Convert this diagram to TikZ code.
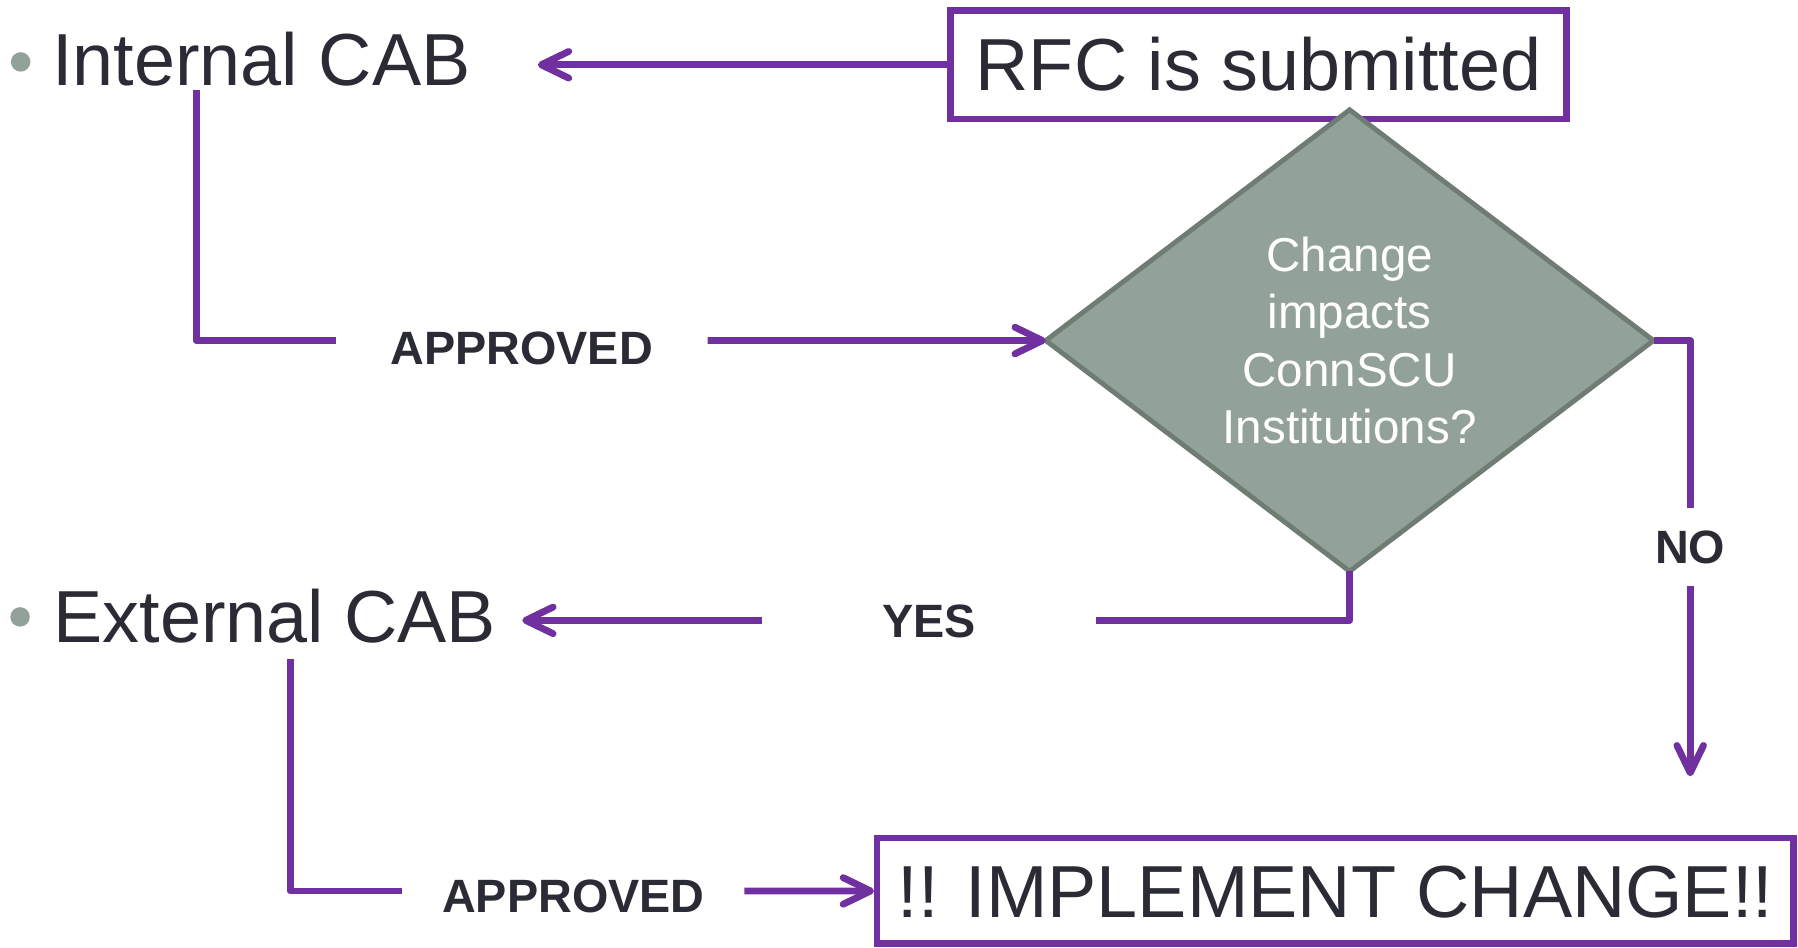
\documentclass[tikz,border=0pt]{standalone}
\usepackage{fontspec}
\setmainfont{Liberation Sans}
\usepackage{xcolor}
\usetikzlibrary{arrows.meta, shapes.geometric, positioning}

\definecolor{cabpurple}{HTML}{7030A0}
\definecolor{cabtext}{HTML}{2B2B35}
\definecolor{cabgray}{HTML}{93A298}
\definecolor{cabedge}{HTML}{6E7C73}

\begin{document}
\begin{tikzpicture}[x=0.1mm, y=-0.1mm,
        big/.style={inner sep=0pt, text=cabtext, font=\fontsize{18.3pt}{22pt}\selectfont, text height=13pt, text depth=0pt},
        box/.style={big, draw=cabpurple, line width=1.6pt},
        lbl/.style={inner ysep=0pt, text=cabtext, font=\bfseries\fontsize{11.6pt}{13pt}\selectfont, text height=8.3pt, text depth=0pt},
        dot/.style={circle, fill=cabgray, inner sep=0pt, minimum size=1.7mm},
        wire/.style={draw=cabpurple, line width=1.7pt, line join=round},
        flow/.style={wire, -{Straight Barb[round, length=6.8pt, width=6.6pt]}}]

        \useasboundingbox (0,0) rectangle (1568,826);

        \node[dot] (intdot) at (18,54) {};
        \node[big, anchor=base west] (intcab) at (45,75) {Internal CAB};
        \node[box, minimum width=53.7mm, minimum height=9.5mm] (rfc) at (1097.5,56.5) {RFC is submitted};

        \node[diamond, draw=cabedge, fill=cabgray, line width=1.2pt, inner sep=0pt, outer sep=0pt,
              minimum width=53mm, minimum height=38.7mm, text=white, align=center,
              font=\fontsize{11.8pt}{14.3pt}\selectfont] (dec) at (1177,297) {Change\\impacts\\ConnSCU\\Institutions?};

        \node[dot] (extdot) at (17.5,538) {};
        \node[big, anchor=base west] (extcab) at (46,560) {External CAB};
        \node[box, minimum width=79.9mm, minimum height=9.2mm] (impl) at (1164.5,777) {!! IMPLEMENT CHANGE!!};

        \node[lbl, inner xsep=4.7mm] (appr1) at (455,303) {APPROVED};
        \node[lbl, inner xsep=10.4mm] (yes) at (810,541) {YES};
        \node[lbl, inner xsep=0pt, inner ysep=1.9mm] (no) at (1474,477) {NO};
        \node[lbl, inner xsep=3.4mm] (appr2) at (500,781) {APPROVED};
        \coordinate (noend) at (1474,677);

        \draw[flow, shorten >=5.8mm] (rfc.west) -- (intcab.east |- rfc.west);
        \draw[wire] ([xshift=12.6mm,yshift=-0.3mm]intcab.south west) |- ([yshift=0.6mm]appr1.west);
        \draw[flow] ([yshift=0.6mm]appr1.east) -- (dec.west);

        \draw[wire] (dec.south) |- (yes.east);
        \draw[flow, shorten >=2.2mm] (yes.west) -- (extcab.east |- yes.west);

        \draw[wire] (dec.east) -| (no.north);
        \draw[flow] (no.south) -- (noend);

        \draw[wire] ([xshift=20.7mm,yshift=-1.4mm]extcab.south west) |- ([yshift=0.4mm]appr2.west);
        \draw[flow] ([yshift=0.4mm]appr2.east) -- (impl.west);

\end{tikzpicture}
\end{document}
